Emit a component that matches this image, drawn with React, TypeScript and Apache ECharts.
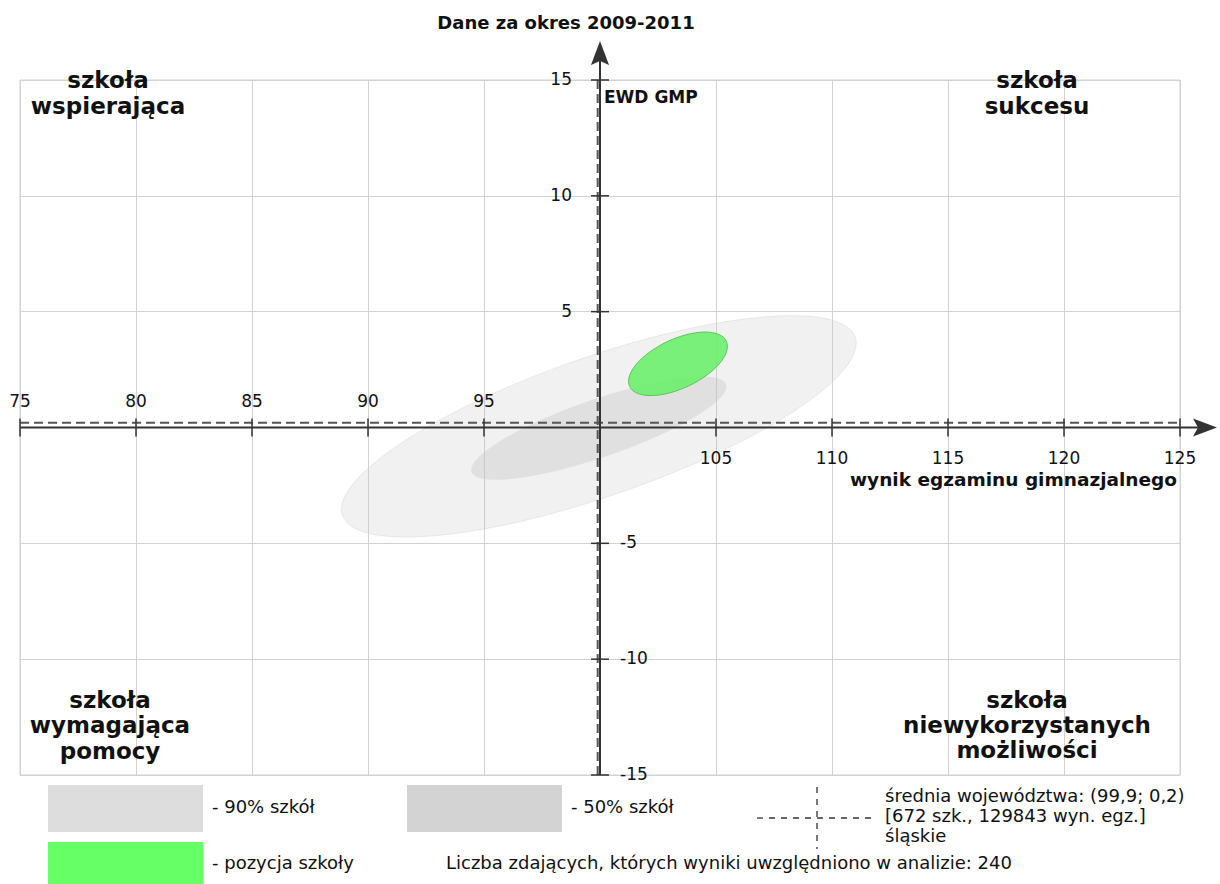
import React, { useEffect, useRef } from "react";
import * as echarts from "echarts";

// ---- data ----
const xTicks = [75, 80, 85, 90, 95, 100, 105, 110, 115, 120, 125];
const yTicks = [-15, -10, -5, 0, 5, 10, 15];
const meanPoint = [99.9, 0.2];
// ellipse: [centerX, centerY, semiMajor, semiMinor, angleDeg]
const ellipse90 = [99.95, 0.05, 11.7, 3.0, 19.2];
const ellipse50 = [99.95, -0.03, 5.8, 1.25, 19.0];
const schoolEllipse = [103.36, 2.75, 2.3, 1.06, 25.2];

const titleText = "Dane za okres 2009-2011";
const yAxisName = "EWD GMP";
const xAxisName = "wynik egzaminu gimnazjalnego";
const quadrantTL = "szkoła\nwspierająca";
const quadrantTR = "szkoła\nsukcesu";
const quadrantBL = "szkoła\nwymagająca\npomocy";
const quadrantBR = "szkoła\nniewykorzystanych\nmożliwości";
const legend90 = "- 90% szkół";
const legend50 = "- 50% szkół";
const legendSchool = "- pozycja szkoły";
const legendMean = "średnia województwa: (99,9; 0,2)\n[672 szk., 129843 wyn. egz.]\nśląskie";
const countText = "Liczba zdających, których wyniki uwzględniono w analizie: 240";

const FONT = '"DejaVu Sans", sans-serif';

function ellipseRenderer(fill: string, stroke: string) {
  return (params: any, api: any) => {
    const cx = api.value(0);
    const cy = api.value(1);
    const a = api.value(2);
    const b = api.value(3);
    const ang = (api.value(4) * Math.PI) / 180;
    const pts: number[][] = [];
    const n = 120;
    for (let i = 0; i < n; i++) {
      const t = (i / n) * Math.PI * 2;
      const x = cx + a * Math.cos(t) * Math.cos(ang) - b * Math.sin(t) * Math.sin(ang);
      const y = cy + a * Math.cos(t) * Math.sin(ang) + b * Math.sin(t) * Math.cos(ang);
      pts.push(api.coord([x, y]));
    }
    return {
      type: "polygon",
      shape: { points: pts },
      style: { fill, stroke, lineWidth: 1 },
    };
  };
}

export default function App() {
  const ref = useRef<HTMLDivElement>(null);

  useEffect(() => {
    document.body.style.margin = "0";
    if (!ref.current) return;
    const chart = echarts.init(ref.current, undefined, { renderer: "svg" });

    const option: any = {
      animation: false,
      backgroundColor: "#ffffff",
      grid: {
        left: 20,
        top: 80,
        width: 1160,
        height: 695,
        show: true,
        borderColor: "#d2d2d2",
        borderWidth: 1,
      },
      xAxis: {
        type: "value",
        min: 75,
        max: 125,
        interval: 5,
        axisLine: { show: false },
        axisTick: { show: false },
        axisLabel: { show: false },
        splitLine: { show: true, lineStyle: { color: "#d2d2d2", width: 1 } },
      },
      yAxis: {
        type: "value",
        min: -15,
        max: 15,
        interval: 5,
        axisLine: { show: false },
        axisTick: { show: false },
        axisLabel: { show: false },
        splitLine: { show: true, lineStyle: { color: "#d2d2d2", width: 1 } },
      },
      series: [
        {
          type: "custom",
          name: "90%",
          z: 2,
          clip: false,
          encode: { x: 0, y: 1 },
          data: [ellipse90],
          renderItem: ellipseRenderer("rgba(200,200,200,0.26)", "rgba(200,200,200,0.35)"),
        },
        {
          type: "custom",
          name: "50%",
          z: 3,
          clip: false,
          encode: { x: 0, y: 1 },
          data: [ellipse50],
          renderItem: ellipseRenderer("rgba(190,190,190,0.33)", "none"),
        },
        {
          type: "custom",
          name: "szkoła",
          z: 4,
          clip: false,
          encode: { x: 0, y: 1 },
          data: [schoolEllipse],
          renderItem: ellipseRenderer("rgba(100,240,100,0.85)", "#5cc45c"),
        },
        {
          type: "custom",
          name: "mean",
          z: 5,
          clip: false,
          encode: { x: 0, y: 1 },
          data: [meanPoint],
          renderItem: (params: any, api: any) => {
            const mx = api.value(0);
            const my = api.value(1);
            const h1 = api.coord([xTicks[0], my]);
            const h2 = api.coord([xTicks[xTicks.length - 1], my]);
            const v1 = api.coord([mx, yTicks[yTicks.length - 1]]);
            const v2 = api.coord([mx, yTicks[0]]);
            const st = { stroke: "#555", lineWidth: 2, lineDash: [9, 5] };
            return {
              type: "group",
              children: [
                { type: "line", shape: { x1: h1[0], y1: h1[1], x2: h2[0], y2: h2[1] }, style: st },
                { type: "line", shape: { x1: v1[0], y1: v1[1], x2: v2[0], y2: v2[1] }, style: st },
              ],
            };
          },
        },
        {
          type: "custom",
          name: "axes",
          z: 6,
          clip: false,
          encode: { x: 0, y: 1 },
          data: [[100, 0]],
          renderItem: (params: any, api: any) => {
            const o = api.coord([api.value(0), api.value(1)]);
            const l = api.coord([xTicks[0], 0])[0];
            const r = api.coord([xTicks[xTicks.length - 1], 0])[0];
            const t = api.coord([100, yTicks[yTicks.length - 1]])[1];
            const b = api.coord([100, yTicks[0]])[1];
            const st = { stroke: "#333", lineWidth: 2 };
            return {
              type: "group",
              children: [
                { type: "line", shape: { x1: l, y1: o[1], x2: r + 28, y2: o[1] }, style: st },
                {
                  type: "polygon",
                  shape: {
                    points: [
                      [r + 37, o[1]],
                      [r + 13, o[1] - 9],
                      [r + 18, o[1]],
                      [r + 13, o[1] + 9],
                    ],
                  },
                  style: { fill: "#333" },
                },
                { type: "line", shape: { x1: o[0], y1: b, x2: o[0], y2: t - 30 }, style: st },
                {
                  type: "polygon",
                  shape: {
                    points: [
                      [o[0], t - 39],
                      [o[0] - 9, t - 15],
                      [o[0], t - 19],
                      [o[0] + 9, t - 15],
                    ],
                  },
                  style: { fill: "#333" },
                },
              ],
            };
          },
        },
        {
          type: "custom",
          name: "xticks",
          z: 7,
          clip: false,
          encode: { x: 0, y: 1 },
          data: xTicks.filter((v) => v !== 100).map((v) => [v, 0]),
          renderItem: (params: any, api: any) => {
            const v = api.value(0);
            const p = api.coord([v, api.value(1)]);
            return {
              type: "group",
              children: [
                {
                  type: "line",
                  shape: { x1: p[0], y1: p[1] - 9, x2: p[0], y2: p[1] + 9 },
                  style: { stroke: "#333", lineWidth: 1.5 },
                },
                {
                  type: "text",
                  x: p[0],
                  y: v < 100 ? p[1] - 27 : p[1] + 30,
                  style: {
                    text: String(v),
                    fill: "#111",
                    fontSize: 17,
                    fontFamily: FONT,
                    align: "center",
                    verticalAlign: "middle",
                  },
                },
              ],
            };
          },
        },
        {
          type: "custom",
          name: "yticks",
          z: 7,
          clip: false,
          encode: { x: 0, y: 1 },
          data: yTicks.filter((v) => v !== 0).map((v) => [100, v]),
          renderItem: (params: any, api: any) => {
            const v = api.value(1);
            const p = api.coord([api.value(0), v]);
            return {
              type: "group",
              children: [
                {
                  type: "line",
                  shape: { x1: p[0] - 9, y1: p[1], x2: p[0] + 9, y2: p[1] },
                  style: { stroke: "#333", lineWidth: 1.5 },
                },
                {
                  type: "text",
                  x: v > 0 ? p[0] - 28 : p[0] + 20,
                  y: p[1] - 1,
                  style: {
                    text: String(v),
                    fill: "#111",
                    fontSize: 17,
                    fontFamily: FONT,
                    align: v > 0 ? "right" : "left",
                    verticalAlign: "middle",
                  },
                },
              ],
            };
          },
        },
      ],
      graphic: [
        {
          type: "text",
          x: 566,
          y: 22,
          z: 10,
          style: { text: titleText, font: `bold 18px ${FONT}`, fill: "#111", align: "center", verticalAlign: "middle" },
        },
        {
          type: "text",
          x: 604,
          y: 97,
          z: 10,
          style: { text: yAxisName, font: `bold 17px ${FONT}`, fill: "#111", align: "left", verticalAlign: "middle" },
        },
        {
          type: "text",
          x: 1177,
          y: 479,
          z: 10,
          style: { text: xAxisName, font: `bold 18.5px ${FONT}`, fill: "#111", align: "right", verticalAlign: "middle" },
        },
        {
          type: "text",
          x: 108,
          y: 67,
          z: 10,
          style: { text: quadrantTL, font: `bold 23px ${FONT}`, lineHeight: 26, fill: "#111", align: "center", verticalAlign: "top" },
        },
        {
          type: "text",
          x: 1037,
          y: 67,
          z: 10,
          style: { text: quadrantTR, font: `bold 23px ${FONT}`, lineHeight: 26, fill: "#111", align: "center", verticalAlign: "top" },
        },
        {
          type: "text",
          x: 110,
          y: 687,
          z: 10,
          style: { text: quadrantBL, font: `bold 23px ${FONT}`, lineHeight: 25.5, fill: "#111", align: "center", verticalAlign: "top" },
        },
        {
          type: "text",
          x: 1027,
          y: 687,
          z: 10,
          style: { text: quadrantBR, font: `bold 23px ${FONT}`, lineHeight: 25, fill: "#111", align: "center", verticalAlign: "top" },
        },
        // legend
        { type: "rect", z: 10, shape: { x: 48, y: 785, width: 155, height: 47 }, style: { fill: "#dddddd" } },
        {
          type: "text",
          x: 212,
          y: 806,
          z: 10,
          style: { text: legend90, font: `18px ${FONT}`, fill: "#111", align: "left", verticalAlign: "middle" },
        },
        { type: "rect", z: 10, shape: { x: 407, y: 785, width: 155, height: 47 }, style: { fill: "#d3d3d3" } },
        {
          type: "text",
          x: 571,
          y: 806,
          z: 10,
          style: { text: legend50, font: `18px ${FONT}`, fill: "#111", align: "left", verticalAlign: "middle" },
        },
        { type: "rect", z: 10, shape: { x: 48, y: 842, width: 155, height: 42 }, style: { fill: "#66ff66" } },
        {
          type: "text",
          x: 212,
          y: 862,
          z: 10,
          style: { text: legendSchool, font: `18px ${FONT}`, fill: "#111", align: "left", verticalAlign: "middle" },
        },
        {
          type: "line",
          z: 10,
          shape: { x1: 757, y1: 818, x2: 876, y2: 818 },
          style: { stroke: "#333", lineWidth: 1.3, lineDash: [6, 6] },
        },
        {
          type: "line",
          z: 10,
          shape: { x1: 817, y1: 787, x2: 817, y2: 849 },
          style: { stroke: "#333", lineWidth: 1.3, lineDash: [6, 6] },
        },
        {
          type: "text",
          x: 885,
          y: 785,
          z: 10,
          style: { text: legendMean, font: `18px ${FONT}`, lineHeight: 20, fill: "#111", align: "left", verticalAlign: "top" },
        },
        {
          type: "text",
          x: 446,
          y: 862,
          z: 10,
          style: { text: countText, font: `18px ${FONT}`, fill: "#111", align: "left", verticalAlign: "middle" },
        },
      ],
    };

    chart.setOption(option);
    return () => chart.dispose();
  }, []);

  return <div ref={ref} style={{ width: 1220, height: 884 }} />;
}
